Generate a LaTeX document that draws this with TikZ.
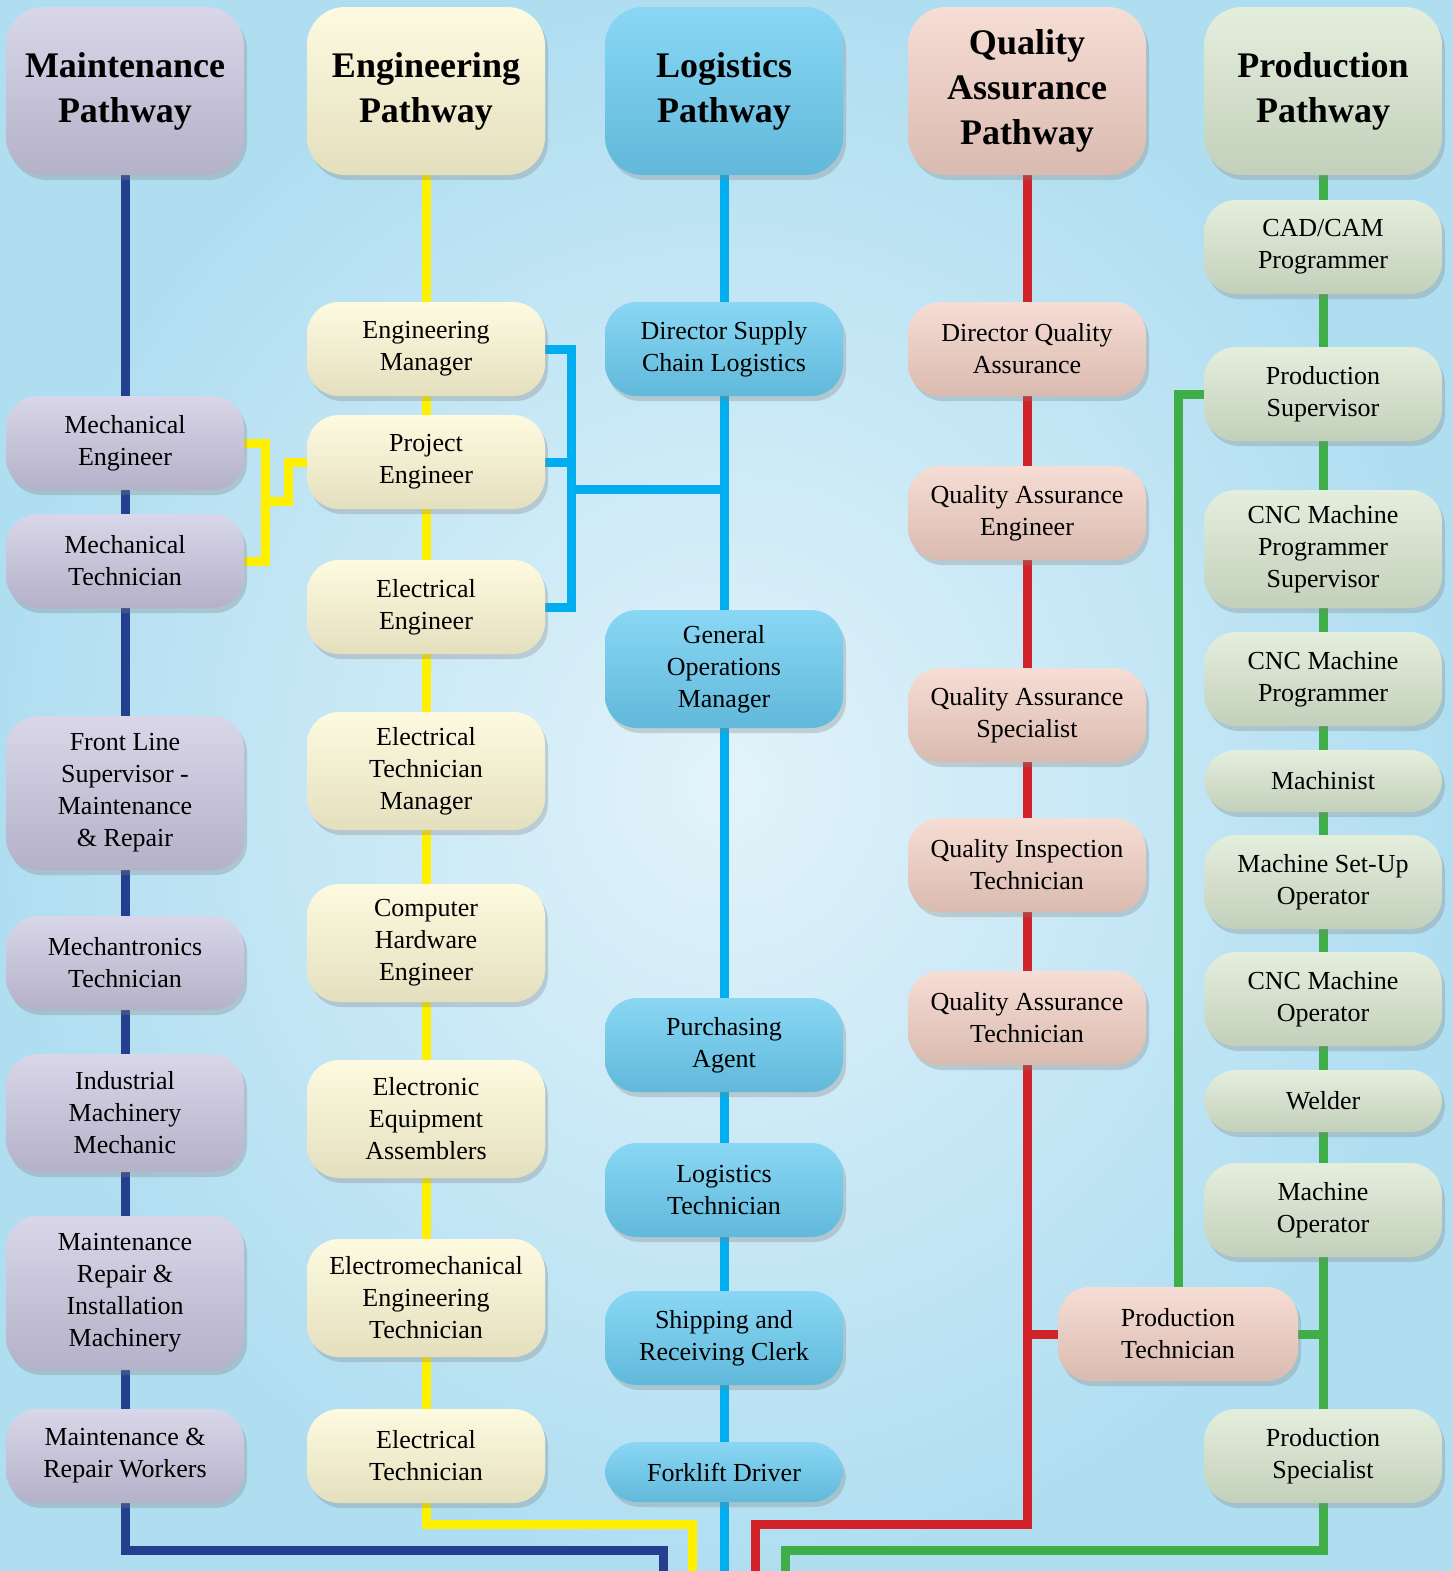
\documentclass[tikz,border=0pt]{standalone}
\usepackage{fontspec}
\setmainfont{Liberation Serif}
\usetikzlibrary{shadows}
\usetikzlibrary{backgrounds}

\definecolor{skyback}{HTML}{BFE4F4}
\definecolor{skyedge}{HTML}{B0DEF1}
\definecolor{maintfill}{HTML}{C8C5DF}
\definecolor{engfill}{HTML}{FDF8D3}
\definecolor{logfill}{HTML}{6CCDF2}
\definecolor{qafill}{HTML}{F2CFC3}
\definecolor{prodfill}{HTML}{D8E7CF}
\definecolor{maintline}{HTML}{233F8E}
\definecolor{engline}{HTML}{FFF000}
\definecolor{logline}{HTML}{00AEEF}
\definecolor{qaline}{HTML}{D2232A}
\definecolor{prodline}{HTML}{3FAE49}

\begin{document}
\begin{tikzpicture}[x=0.5pt,y=-0.5pt]
    \tikzset{job/.style = {shape=rectangle, rounded corners=16pt, minimum width=119pt,
        minimum height=47pt, inner sep=2pt, align=center,
        font=\fontsize{13}{16}\selectfont,
        drop shadow={opacity=.3, shadow xshift=1.5pt, shadow yshift=-2.5pt}}}
    \tikzset{head/.style = {job, rounded corners=19pt, minimum height=84pt,
        font=\fontsize{18}{22.5}\selectfont\bfseries}}
    \tikzset{maint/.style = {top color=maintfill!70!white, middle color=maintfill, bottom color=maintfill!90!black}}
    \tikzset{eng/.style = {top color=engfill!70!white, middle color=engfill, bottom color=engfill!90!black}}
    \tikzset{logi/.style = {top color=logfill!80!white, middle color=logfill, bottom color=logfill!90!black}}
    \tikzset{qa/.style = {top color=qafill!70!white, middle color=qafill, bottom color=qafill!90!black}}
    \tikzset{prod/.style = {top color=prodfill!70!white, middle color=prodfill, bottom color=prodfill!90!black}}
    \tikzset{link/.style = {line width=4.5pt}}
    \useasboundingbox (0,0) rectangle (1453,1571);

    % headers
    \node[head, maint] (mHead) at (125,91) {Maintenance\\Pathway};
    \node[head, eng] (eHead) at (426,91) {Engineering\\Pathway};
    \node[head, logi] (lHead) at (724,91) {Logistics\\Pathway};
    \node[head, qa] (qHead) at (1027,91) {Quality\\Assurance\\Pathway};
    \node[head, prod] (pHead) at (1323,91) {Production\\Pathway};

    % maintenance
    \node[job, maint] (mEng) at (125,443) {Mechanical\\Engineer};
    \node[job, maint] (mTech) at (125,561) {Mechanical\\Technician};
    \node[job, maint, minimum height=77pt] (fls) at (125,793) {Front Line\\Supervisor -\\Maintenance\\\& Repair};
    \node[job, maint] (mtron) at (125,963) {Mechantronics\\Technician};
    \node[job, maint, minimum height=59pt] (imm) at (125,1113) {Industrial\\Machinery\\Mechanic};
    \node[job, maint, minimum height=77pt] (mri) at (125,1293) {Maintenance\\Repair \&\\Installation\\Machinery};
    \node[job, maint] (mrw) at (125,1456) {Maintenance \&\\Repair Workers};

    % engineering
    \node[job, eng] (engMgr) at (426,349) {Engineering\\Manager};
    \node[job, eng] (projEng) at (426,462) {Project\\Engineer};
    \node[job, eng] (elecEng) at (426,607) {Electrical\\Engineer};
    \node[job, eng, minimum height=59pt] (etm) at (426,771) {Electrical\\Technician\\Manager};
    \node[job, eng, minimum height=59pt] (che) at (426,943) {Computer\\Hardware\\Engineer};
    \node[job, eng, minimum height=59pt] (eea) at (426,1119) {Electronic\\Equipment\\Assemblers};
    \node[job, eng, minimum height=59pt] (emt) at (426,1298) {Electromechanical\\Engineering\\Technician};
    \node[job, eng] (eTech) at (426,1456) {Electrical\\Technician};

    % logistics
    \node[job, logi] (dsc) at (724,349) {Director Supply\\Chain Logistics};
    \node[job, logi, minimum height=59pt] (gom) at (724,669) {General\\Operations\\Manager};
    \node[job, logi] (pa) at (724,1045) {Purchasing\\Agent};
    \node[job, logi] (lt) at (724,1190) {Logistics\\Technician};
    \node[job, logi] (src) at (724,1338) {Shipping and\\Receiving Clerk};
    \node[job, logi, minimum height=30pt] (fd) at (724,1472) {Forklift Driver};

    % quality assurance
    \node[job, qa] (dqa) at (1027,349) {Director Quality\\Assurance};
    \node[job, qa] (qae) at (1027,513) {Quality Assurance\\Engineer};
    \node[job, qa] (qas) at (1027,715) {Quality Assurance\\Specialist};
    \node[job, qa] (qit) at (1027,865) {Quality Inspection\\Technician};
    \node[job, qa] (qat) at (1027,1018) {Quality Assurance\\Technician};
    \node[job, qa, minimum width=120pt] (pTech) at (1178,1334) {Production\\Technician};

    % production
    \node[job, prod] (cad) at (1323,247) {CAD/CAM\\Programmer};
    \node[job, prod] (pSup) at (1323,394) {Production\\Supervisor};
    \node[job, prod, minimum height=59pt] (cncps) at (1323,549) {CNC Machine\\Programmer\\Supervisor};
    \node[job, prod] (cncp) at (1323,679) {CNC Machine\\Programmer};
    \node[job, prod, minimum height=31pt] (mach) at (1323,781) {Machinist};
    \node[job, prod] (msu) at (1323,882) {Machine Set-Up\\Operator};
    \node[job, prod] (cnco) at (1323,999) {CNC Machine\\Operator};
    \node[job, prod, minimum height=31pt] (weld) at (1323,1101) {Welder};
    \node[job, prod] (mop) at (1323,1210) {Machine\\Operator};
    \node[job, prod] (pSpec) at (1323,1456) {Production\\Specialist};

    % bends
    \coordinate (yJoin) at (265,501);
    \coordinate (bJoin) at (571,489);
    \coordinate (mBend) at (663,1550);
    \coordinate (mOut) at (663,1571);
    \coordinate (eBend) at (692,1524);
    \coordinate (eOut) at (692,1571);
    \coordinate (lOut) at (724,1571);
    \coordinate (qBend) at (755,1524);
    \coordinate (qOut) at (755,1571);
    \coordinate (pBend) at (785,1550);
    \coordinate (pOut) at (785,1571);

    \begin{pgfonlayer}{background}
    \shade[inner color=skyback!45!white, outer color=skyedge] (0,0) rectangle (1453,1571);

    % edges
    \foreach \a/\b in {mHead/mEng, mEng/mTech, mTech/fls, fls/mtron, mtron/imm, imm/mri, mri/mrw}
        \draw[link, maintline] (\a) -- (\b);
    \foreach \a/\b in {eHead/engMgr, engMgr/projEng, projEng/elecEng, elecEng/etm, etm/che, che/eea, eea/emt, emt/eTech}
        \draw[link, engline] (\a) -- (\b);
    \foreach \a/\b in {lHead/dsc, dsc/gom, gom/pa, pa/lt, lt/src, src/fd}
        \draw[link, logline] (\a) -- (\b);
    \foreach \a/\b in {qHead/dqa, dqa/qae, qae/qas, qas/qit, qit/qat}
        \draw[link, qaline] (\a) -- (\b);
    \foreach \a/\b in {pHead/cad, cad/pSup, pSup/cncps, cncps/cncp, cncp/mach, mach/msu, msu/cnco, cnco/weld, weld/mop, mop/pSpec}
        \draw[link, prodline] (\a) -- (\b);

    \draw[link, engline] (mEng.east) -| (yJoin) |- (mTech.east);
    \draw[link, engline] (projEng.west) -- ++(-9pt,0) |- (yJoin);
    \draw[link, logline] (engMgr.east) -| (bJoin) |- (elecEng.east);
    \draw[link, logline] (projEng.east) -- (projEng.east -| bJoin);
    \draw[link, logline] (bJoin) -- (bJoin -| dsc.south);
    \draw[link, prodline] (pSup.west) -| (pTech.north);
    \draw[link, prodline] (pTech.east) -- (pTech.east -| pSpec.south);
    \draw[link, qaline] (pTech.west) -- (pTech.west -| qat.south);

    \draw[link, maintline] (mrw.south) |- (mBend) -- (mOut);
    \draw[link, engline] (eTech.south) |- (eBend) -- (eOut);
    \draw[link, logline] (fd.south) -- (lOut);
    \draw[link, qaline] (qat.south) |- (qBend) -- (qOut);
    \draw[link, prodline] (pSpec.south) |- (pBend) -- (pOut);
    \end{pgfonlayer}
\end{tikzpicture}
\end{document}
